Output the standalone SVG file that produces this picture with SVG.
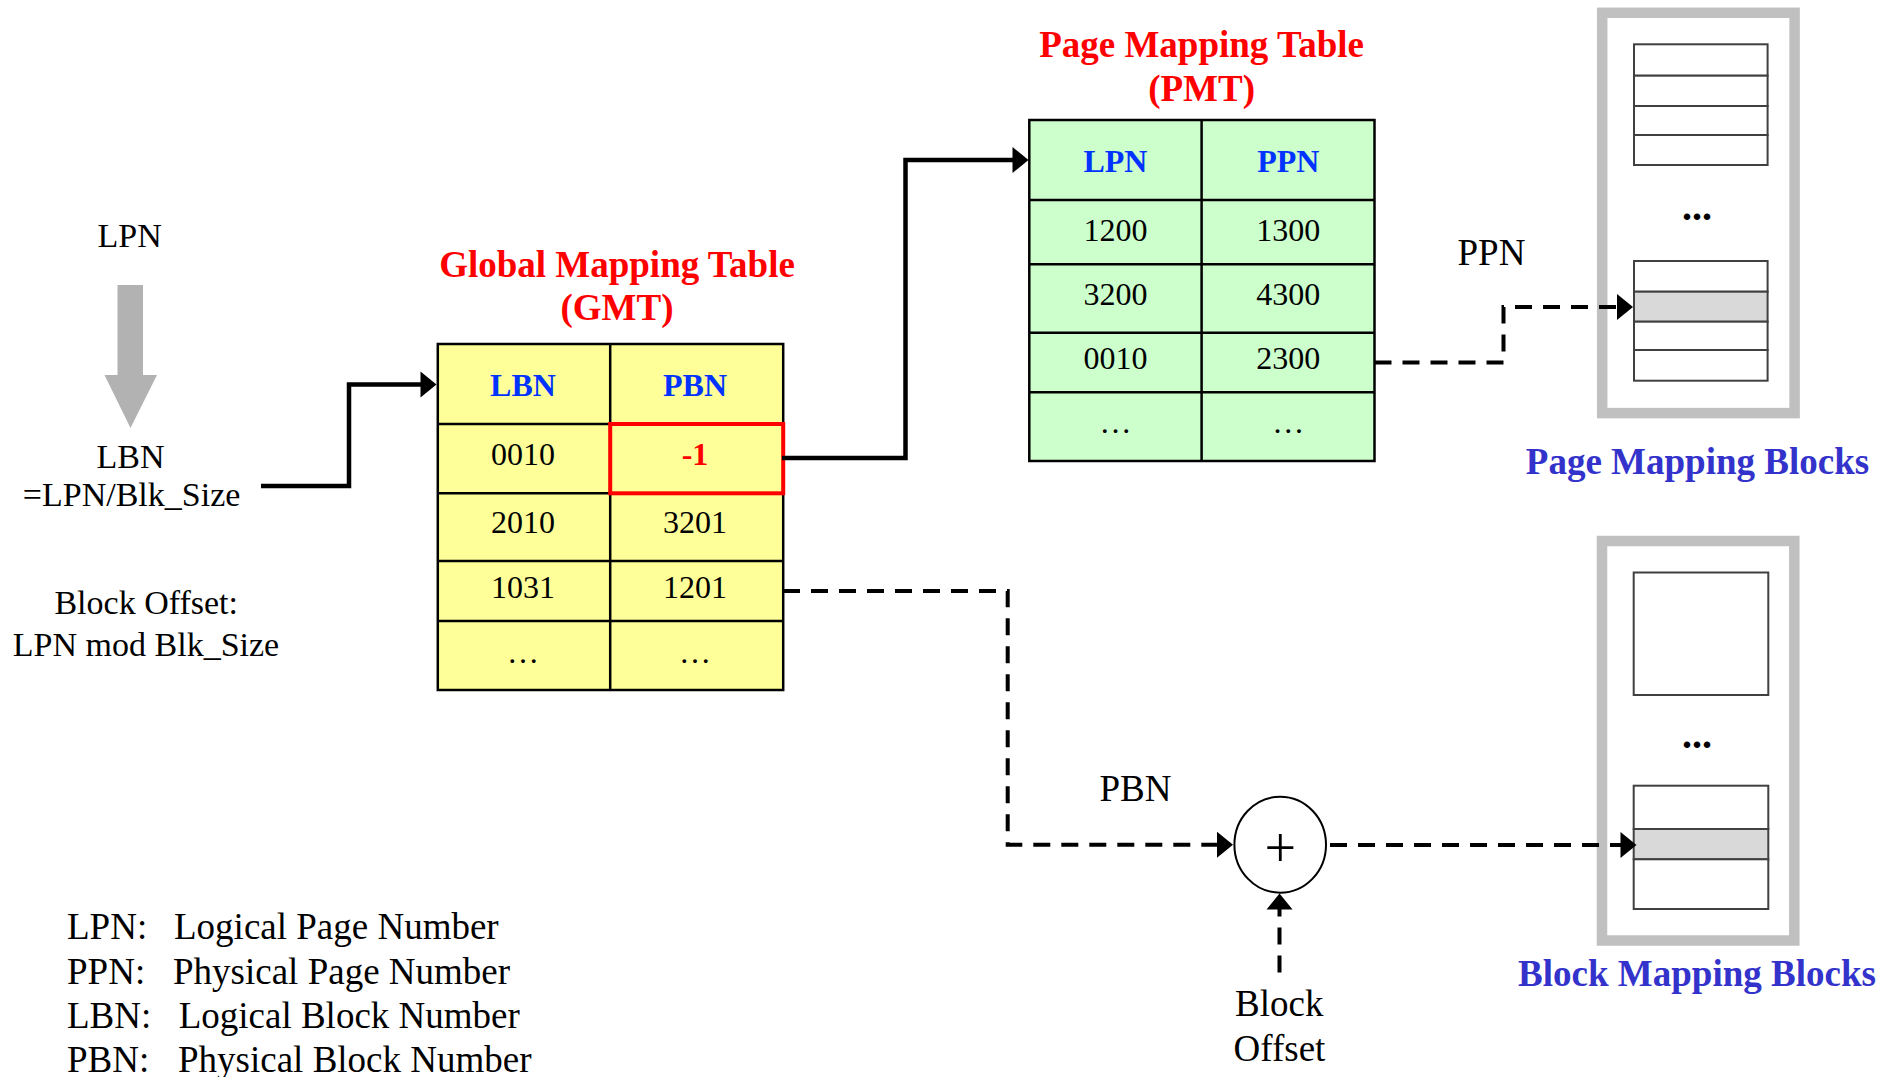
<svg xmlns="http://www.w3.org/2000/svg" width="1883" height="1077" viewBox="0 0 1883 1077">
<style>
text{font-family:"Liberation Serif","Times New Roman",serif;fill:#000}
.t34{font-size:34px}
.t37{font-size:37px}
.c{text-anchor:middle}
.num{font-size:32px;text-anchor:middle}
.hdr{font-size:32px;font-weight:bold;fill:#0033FF;text-anchor:middle}
.title{font-size:37px;font-weight:bold;fill:#FF0000;text-anchor:middle}
.blk{font-size:37px;font-weight:bold;fill:#3333CC;text-anchor:middle}
.dots{font-size:40px;font-weight:bold;text-anchor:middle}
.grid{stroke:#000;stroke-width:2.5;fill:none}
.frame{fill:#fff;stroke:#C0C0C0;stroke-width:10.5}
.pg{fill:#fff;stroke:#404040;stroke-width:2}
.pgsel{fill:#D9D9D9;stroke:#404040;stroke-width:2}
.solid{fill:none;stroke:#000;stroke-width:4.5}
.dash{fill:none;stroke:#000;stroke-width:4;stroke-dasharray:17 11}
</style>
<defs>
<marker id="ah" markerUnits="userSpaceOnUse" markerWidth="18" markerHeight="28" refX="1" refY="13" orient="auto" viewBox="0 0 18 28" overflow="visible">
<path d="M0,0 L16,13 L0,26 z" fill="#000"/>
</marker>
</defs>

<g id="lpn-input">
<text class="t34 c" x="129.6" y="247">LPN</text>
<polygon points="117.5,285 143,285 143,375 157,375 130.5,428 104.5,375 117.5,375" fill="#B2B2B2"/>
<text class="t34 c" x="130.6" y="468">LBN</text>
<text class="t34 c" x="131.6" y="506">=LPN/Blk_Size</text>
<text class="t34 c" x="146.2" y="614">Block Offset:</text>
<text class="t34 c" x="146" y="656">LPN mod Blk_Size</text>
</g>

<g id="gmt">
<text class="title" x="617" y="277">Global Mapping Table</text>
<text class="title" x="617" y="320">(GMT)</text>
<rect x="437.8" y="344" width="345.4" height="346" fill="#FFFF99"/>
<path class="grid" d="M437.8,344 H783.2 V690 H437.8 Z M610.2,344 V690 M437.8,424 H783.2 M437.8,493.3 H783.2 M437.8,561 H783.2 M437.8,621 H783.2"/>
<rect x="610.2" y="424" width="173" height="69.3" fill="none" stroke="#FF0000" stroke-width="4"/>
<text class="hdr" x="523" y="396">LBN</text>
<text class="hdr" x="695" y="396">PBN</text>
<text class="num" x="523" y="465">0010</text>
<text class="num" x="695" y="465" style="font-weight:bold;fill:#FF0000">-1</text>
<text class="num" x="523" y="533">2010</text>
<text class="num" x="695" y="533">3201</text>
<text class="num" x="523" y="598">1031</text>
<text class="num" x="695" y="598">1201</text>
<text class="num" x="523" y="663">…</text>
<text class="num" x="695" y="663">…</text>
</g>

<g id="pmt">
<text class="title" x="1201.6" y="57">Page Mapping Table</text>
<text class="title" x="1201.6" y="101">(PMT)</text>
<rect x="1029.3" y="120" width="345.2" height="341" fill="#CCFFCC"/>
<path class="grid" d="M1029.3,120 H1374.5 V461 H1029.3 Z M1201.6,120 V461 M1029.3,200 H1374.5 M1029.3,264.3 H1374.5 M1029.3,332.7 H1374.5 M1029.3,392.3 H1374.5"/>
<text class="hdr" x="1115.4" y="172">LPN</text>
<text class="hdr" x="1288.3" y="172">PPN</text>
<text class="num" x="1115.4" y="241">1200</text>
<text class="num" x="1288.3" y="241">1300</text>
<text class="num" x="1115.4" y="305">3200</text>
<text class="num" x="1288.3" y="305">4300</text>
<text class="num" x="1115.4" y="369">0010</text>
<text class="num" x="1288.3" y="369">2300</text>
<text class="num" x="1115.4" y="433">…</text>
<text class="num" x="1288.3" y="433">…</text>
</g>

<g id="page-mapping-blocks">
<rect class="frame" x="1602.2" y="12.8" width="192.4" height="400.3"/>
<rect class="pg" x="1634" y="44.3" width="133.6" height="31.4"/>
<rect class="pg" x="1634" y="75.7" width="133.6" height="30.3"/>
<rect class="pg" x="1634" y="106" width="133.6" height="29"/>
<rect class="pg" x="1634" y="135" width="133.6" height="30"/>
<text class="dots" x="1697" y="220">...</text>
<rect class="pg" x="1634" y="261" width="133.6" height="30.7"/>
<rect class="pgsel" x="1634" y="291.7" width="133.6" height="30"/>
<rect class="pg" x="1634" y="321.7" width="133.6" height="28.3"/>
<rect class="pg" x="1634" y="350" width="133.6" height="30.7"/>
<text class="blk" x="1697.5" y="474">Page Mapping Blocks</text>
</g>

<g id="block-mapping-blocks">
<rect class="frame" x="1602" y="541" width="192.3" height="399.5"/>
<rect class="pg" x="1633.7" y="572.5" width="134.6" height="122.5"/>
<text class="dots" x="1697" y="748">...</text>
<rect class="pg" x="1633.7" y="785.7" width="134.6" height="43.3"/>
<rect class="pgsel" x="1633.7" y="829" width="134.6" height="30.3"/>
<rect class="pg" x="1633.7" y="859.3" width="134.6" height="49.7"/>
<text class="blk" x="1697" y="986">Block Mapping Blocks</text>
</g>

<g id="adder">
<ellipse cx="1280.2" cy="844.7" rx="45.8" ry="48" fill="#fff" stroke="#000" stroke-width="2"/>
<text x="1280.2" y="867" style="font-size:56px;text-anchor:middle">+</text>
</g>

<g id="block-offset-label">
<text class="t37 c" x="1279.2" y="1016">Block</text>
<text class="t37 c" x="1279.5" y="1061">Offset</text>
</g>

<g id="connectors">
<path class="solid" d="M261,486 H349 V384.5 H421.5" marker-end="url(#ah)"/>
<path class="solid" d="M782,458 H905.5 V160 H1013.5" marker-end="url(#ah)"/>
<path class="dash" d="M1374.5,362.5 H1503.5 V307 H1618" marker-end="url(#ah)"/>
<path class="dash" d="M783,591 H1007.7 V844.7 H1218" marker-end="url(#ah)"/>
<path class="dash" d="M1330,845 H1621.5" marker-end="url(#ah)"/>
<path class="dash" d="M1279.5,972.5 V908.5" marker-end="url(#ah)"/>
<text class="t37 c" x="1491.5" y="265">PPN</text>
<text class="t37 c" x="1135.4" y="801">PBN</text>
</g>

<g id="legend">
<text class="t37" x="67" y="939">LPN:</text>
<text class="t37" x="174" y="939">Logical Page Number</text>
<text class="t37" x="67" y="984">PPN:</text>
<text class="t37" x="173" y="984">Physical Page Number</text>
<text class="t37" x="67" y="1028">LBN:</text>
<text class="t37" x="178.7" y="1028">Logical Block Number</text>
<text class="t37" x="67" y="1072">PBN:</text>
<text class="t37" x="178" y="1072">Physical Block Number</text>
</g>
</svg>
